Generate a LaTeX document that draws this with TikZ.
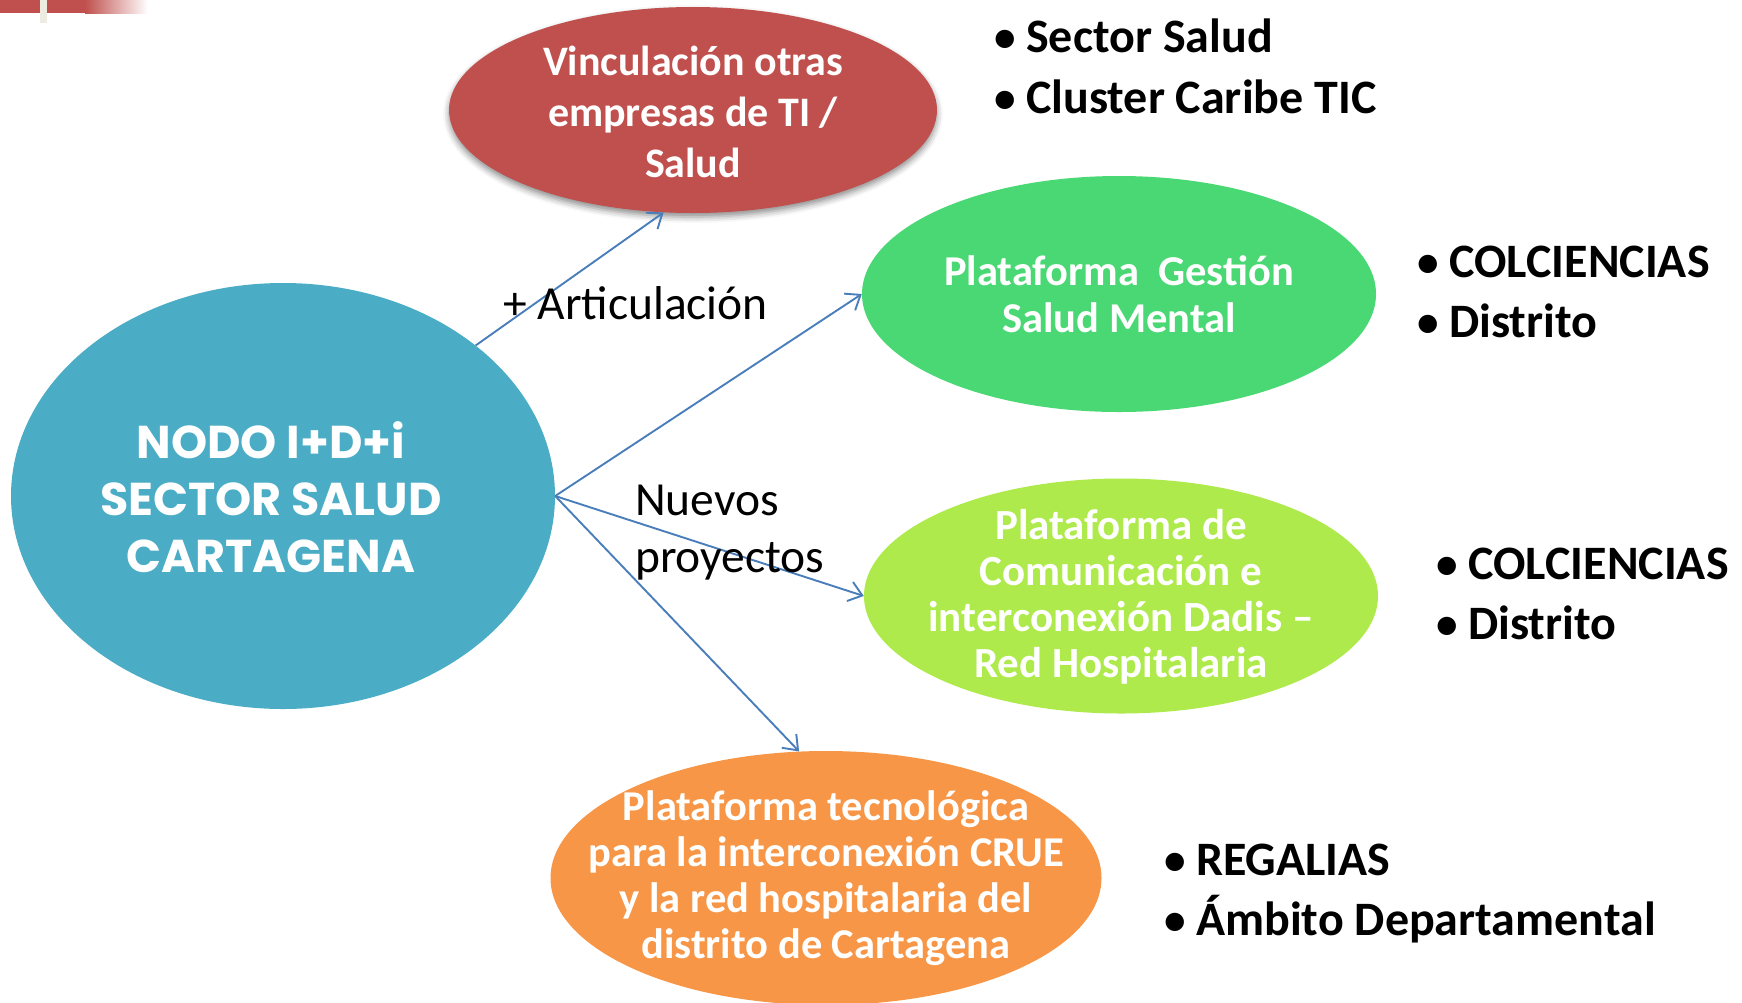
\documentclass[tikz,border=0pt]{standalone}
\usepackage{fontspec}
\setmainfont{Carlito}
\newfontfamily\gothic{Poppins}
\usetikzlibrary{shapes.geometric,arrows.meta,shadows.blur}
\definecolor{cblue}{HTML}{4BACC6}
\definecolor{cred}{HTML}{C0504D}
\definecolor{cgreen}{HTML}{49D873}
\definecolor{clime}{HTML}{AEEA4B}
\definecolor{corange}{HTML}{F79646}
\definecolor{carrow}{HTML}{4A7EBB}
\definecolor{cbar}{HTML}{EEECE1}
\newcommand\bl{\makebox[32pt][l]{\raisebox{1pt}{\scalebox{0.9}{•}}}}
\begin{document}
\begin{tikzpicture}[x=1pt,y=-1pt,
  oval/.style={ellipse,inner sep=0pt},
  otext/.style={inner sep=0pt,text=white,align=center},
  conn/.style={draw=carrow,line width=1.9pt,-{Straight Barb[length=13pt,width=20pt,line width=1.9pt]}},
  lbl/.style={anchor=base west,inner sep=0pt,font=\fontsize{47.5}{57}\selectfont},
  item/.style={anchor=base west,inner sep=0pt,font=\bfseries\fontsize{48}{48}\selectfont},
]
\useasboundingbox (0,0) rectangle (1742,1002);
% top-left decoration
\fill[cred] (0,0) rectangle (85,13);
\shade[left color=cred,right color=white] (85,0) rectangle (148,13);
\fill[cbar] (40,0) rectangle (47,23);

% ellipses
\node[oval,fill=cblue,minimum width=544pt,minimum height=426pt] (nodo) at (283,496) {};
\node[oval,fill=cred,minimum width=488pt,minimum height=206pt,
  blur shadow={shadow xshift=0pt,shadow yshift=-4pt,shadow blur radius=6pt,shadow opacity=45}] (vinc) at (693,110) {};
\node[oval,fill=cgreen,minimum width=514pt,minimum height=236pt] (mental) at (1119,294) {};
\node[oval,fill=clime,minimum width=514pt,minimum height=235pt] (dadis) at (1121,596) {};
\node[oval,fill=corange,minimum width=551pt,minimum height=254pt] (crue) at (826,878) {};

% ellipse texts
\node[otext,font=\gothic\bfseries\fontsize{46}{57}\selectfont] (nodotxt) at (271,497) {NODO I+D+i\\SECTOR SALUD\\CARTAGENA};
\node[otext,font=\bfseries\fontsize{42}{51}\selectfont] (vinctxt) at (693,112) {Vinculación otras\\empresas de TI /\\Salud};
\node[otext,font=\bfseries\fontsize{42.5}{47}\selectfont] (mentaltxt) at (1119,294) {Plataforma\ \ Gestión\\Salud Mental};
\node[otext,font=\bfseries\fontsize{43}{46}\selectfont] (dadistxt) at (1121,597) {Plataforma de\\Comunicación e\\interconexión Dadis –\\Red Hospitalaria};
\node[otext,font=\bfseries\fontsize{42.5}{46}\selectfont] (cruetxt) at (826,878) {Plataforma tecnológica\\para la interconexión CRUE\\y la red hospitalaria del\\distrito de Cartagena};

% connectors
\draw[conn] (nodo.38) -- (vinc.254);
\draw[conn] (nodo.east) -- (mental.west);
\draw[conn] (nodo.east) -- (dadis.west);
\draw[conn] (nodo.east) -- (crue.102);

% connector labels
\node[lbl] (art) at (503,319) {+ Articulación};
\node[lbl] (nuev) at (635,515) {Nuevos};
\node[lbl] (proy) at (635,572) {proyectos};

% bullet lists
\node[item] (l1a) at (994,52) {\bl Sector Salud};
\node[item] (l1b) at (994,113) {\bl Cluster Caribe TIC};
\node[item] (l2a) at (1417,277) {\bl COLCIENCIAS};
\node[item] (l2b) at (1417,337) {\bl Distrito};
\node[item] (l3a) at (1436,579) {\bl COLCIENCIAS};
\node[item] (l3b) at (1436,639) {\bl Distrito};
\node[item] (l4a) at (1164,875) {\bl REGALIAS};
\node[item] (l4b) at (1164,935) {\bl Ámbito Departamental};
\end{tikzpicture}
\end{document}
